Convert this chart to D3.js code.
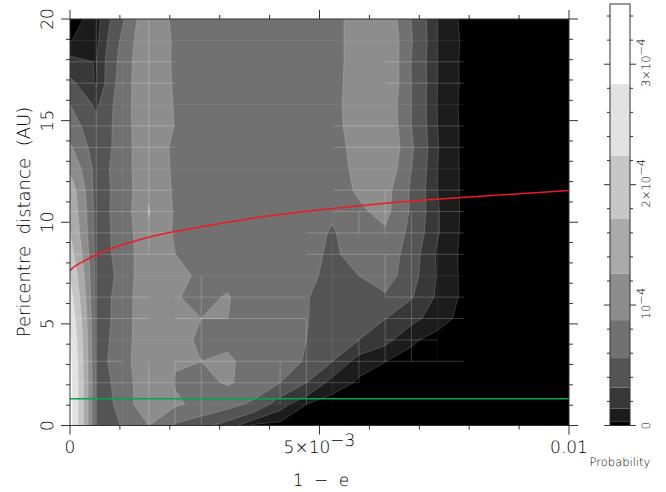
<!DOCTYPE html>
<html>
<head>
<meta charset="utf-8">
<script src="https://cdn.jsdelivr.net/npm/d3@7"></script>
<style>
html, body { margin: 0; padding: 0; background: #fff; }
svg { opacity: 0.999; }
text { font-family: "DejaVu Sans", sans-serif; font-weight: 200; fill: #000; text-rendering: geometricPrecision; }
</style>
</head>
<body>
<div id="chart"></div>
<script>
// probability on a 20 x 20 grid, in units of 1e-6. first row is q = 20 AU, last row q = 0
const probGrid = [
 [0, 7, 52, 116, 79, 74, 74, 74, 74, 74, 72, 108, 115, 55, 14, 0.5, 0, 0, 0, 0],
 [3, 9, 62, 120, 82, 74, 74, 74, 74, 74, 72, 108, 121, 58, 14, 1.5, 0, 0, 0, 0],
 [18, 13.5, 67, 122, 81, 74, 74, 74, 74, 74, 72, 108, 123, 55, 14, 1, 0, 0, 0, 0],
 [37, 12, 71, 118, 83, 74, 74, 74, 74, 74, 74, 108, 123, 56, 14, 1.2, 0, 0, 0, 0],
 [56, 27, 72, 118, 85, 75, 75, 75, 75, 75, 75, 110, 114, 56, 13, 0.8, 0, 0, 0, 0],
 [69, 38, 68, 124, 86, 75, 75, 75, 75, 75, 74, 108, 118, 56, 14, 1, 0, 0, 0, 0],
 [92, 40, 67, 123, 77, 74, 74, 74, 74, 74, 72, 102, 124, 60, 14.5, 1, 0, 0, 0, 0],
 [120, 45, 67, 124, 79, 74, 74, 74, 74, 74, 72, 97, 114, 56, 14, 1.2, 0, 0, 0, 0],
 [150, 43, 67, 120, 82, 74, 74, 74, 74, 74, 72, 92, 100, 51.6, 14, 1.2, 0, 0, 0, 0],
 [162, 45, 66, 128.5, 83.4, 74, 74, 74, 74, 72, 62, 82, 97, 52, 15, 1.2, 0, 0, 0, 0],
 [172, 45, 65, 120, 83, 74, 74, 74, 74, 72, 52, 80, 83, 47.5, 15, 1, 0, 0, 0, 0],
 [195, 45, 64, 117, 88, 72, 75, 75, 72, 70, 48, 75, 75, 41.7, 11.5, 1, 0, 0, 0, 0],
 [222, 45, 61, 121, 108, 75, 78.6, 74, 72, 68, 42, 56, 70, 39, 12.5, 1, 0, 0, 0, 0],
 [245, 45, 64, 124, 89.7, 80, 90, 68, 72, 57.5, 45, 48, 52, 33, 11, 1.5, 0, 0, 0, 0],
 [269, 46, 64, 125, 110, 87.6, 87.7, 75, 72, 57, 46, 44, 32, 18, 8, 0, 0, 0, 0, 0],
 [290, 46, 66, 125, 120, 72, 74, 78, 73, 56, 44, 31.5, 17.9, 5, 0, 0, 0, 0, 0, 0],
 [298, 46, 69, 125.5, 90, 87.6, 98, 63, 72, 52.7, 31.6, 6.5, 3.6, 0.5, 0, 0, 0, 0, 0, 0],
 [303, 48, 62, 125, 85, 80, 90.5, 78, 56, 31.6, 7.5, 2.4, 1, 0, 0, 0, 0, 0, 0, 0],
 [305, 45, 62, 122, 92.8, 78, 67, 50, 20, 3.6, 0, 0, 0, 0, 0, 0, 0, 0, 0, 0],
 [305, 45, 57, 88, 52, 39, 22, 1, 0, 0, 0, 0, 0, 0, 0, 0, 0, 0, 0, 0]
];

// contour levels (1e-6) and the grey of the band starting at each level
const levels = [0, 3.5, 14, 31.5, 56, 87.5, 126, 171.5, 224, 283.5];
const bandColors = ["#000000", "#1c1c1c", "#383838", "#555555", "#717171", "#8d8d8d", "#aaaaaa", "#c6c6c6", "#e2e2e2", "#ffffff"];

// red curve and green line
const redX = [0, 0.00005, 0.000255, 0.00052, 0.00086, 0.00119, 0.00159, 0.00212, 0.00354, 0.00401, 0.00501, 0.00601, 0.00701, 0.00822, 0.01];
const redQ = [7.6, 7.78, 8.06, 8.42, 8.75, 8.99, 9.29, 9.57, 10.16, 10.32, 10.62, 10.87, 11.08, 11.28, 11.56];
const greenQ = 1.32;

// polygon seams along grid lines: [row, fromCol, toCol] and [col, fromRow, toRow], row 0 at the top
const seamRows = [[2,0,4],[3,0,4],[5,0,4],[6,0,4],[8,0,4],[9,0,4],[10,0,4],[11,0,4],[13,0,3],[13,4,9],[14,0,3],[14,4,9],[16,0,2],[16,4,15],[17,0,11],[3,12,15],[2,12,15],[5,10,15],[6,10,15],[8,10,15],[9,10,15],[10,9,15],[11,9,15],[13,12,15],[14,12,15],[15,12,14]];
const faintRows = [[1,0,15],[4,0,15],[7,0,15],[12,0,15],[15,0,11],[18,4,9]];
const seamCols = [[1,0,19],[3,0,11],[3,16,19],[4,16,19],[5,12,19],[8,16,18],[9,14,18],[11,9,10],[11,15,17],[12,8,10],[12,11,13],[12,14,16],[13,9,16]];
const faintCols = [[2,2,19],[10,9,18],[14,9,16]];

const xMajor = [0, 0.005, 0.01];
const yMajor = [0, 5, 10, 15, 20];
const barMajor = [0, 1e-4, 2e-4, 3e-4];

const width = 666, height = 492;
const svg = d3.select("#chart").append("svg")
    .attr("width", width).attr("height", height)
    .style("display", "block");

const x = d3.scaleLinear().domain([0, 0.01]).range([70, 569]);
const y = d3.scaleLinear().domain([0, 20]).range([425.5, 19]);
const barY = d3.scaleLinear().domain([0, 3.5e-4]).range([425.5, 4]);

const nCol = probGrid[0].length, nRow = probGrid.length;
const colX = function (c) { return x(c * 0.01 / (nCol - 1)); };
const rowY = function (r) { return y(20 - r * 20 / (nRow - 1)); };

svg.append("clipPath").attr("id", "plotClip").append("rect")
    .attr("x", 70).attr("y", 19).attr("width", 499).attr("height", 406.5);

const plot = svg.append("g").attr("clip-path", "url(#plotClip)");

// d3 puts value i at grid coordinate i + 0.5
const contours = d3.contours().size([nCol, nRow]).thresholds(levels.slice(1));
const gridPath = d3.geoPath(d3.geoTransform({
    point: function (gx, gy) { this.stream.point(colX(gx - 0.5), rowY(gy - 0.5)); }
}));

plot.append("rect").attr("x", 70).attr("y", 19).attr("width", 499).attr("height", 406.5)
    .attr("fill", bandColors[0]);

const bands = contours(probGrid.flat());
plot.selectAll(".band")
    .data(bands)
    .enter().append("path")
    .attr("class", "band")
    .attr("d", gridPath)
    .attr("fill", function (d, i) { return bandColors[i + 1]; })
    .attr("stroke", "#fff")
    .attr("stroke-opacity", 0.28)
    .attr("stroke-width", 0.6);

// light seams where the grid polygons meet
function drawSeams(rows, cols, opacity) {
    plot.append("g").selectAll("line").data(rows).enter().append("line")
        .attr("x1", function (d) { return colX(d[1]); })
        .attr("x2", function (d) { return colX(d[2]); })
        .attr("y1", function (d) { return rowY(d[0]); })
        .attr("y2", function (d) { return rowY(d[0]); })
        .attr("stroke", "#fff").attr("stroke-opacity", opacity).attr("stroke-width", 0.7);
    plot.append("g").selectAll("line").data(cols).enter().append("line")
        .attr("x1", function (d) { return colX(d[0]); })
        .attr("x2", function (d) { return colX(d[0]); })
        .attr("y1", function (d) { return rowY(d[1]); })
        .attr("y2", function (d) { return rowY(d[2]); })
        .attr("stroke", "#fff").attr("stroke-opacity", opacity).attr("stroke-width", 0.7);
}
drawSeams(seamRows, seamCols, 0.3);
drawSeams(faintRows, faintCols, 0.1);

// curves
const redLine = d3.line()
    .x(function (d) { return x(d); })
    .y(function (d, i) { return y(redQ[i]); })
    .curve(d3.curveBasis);
plot.append("path").attr("d", redLine(redX))
    .attr("fill", "none").attr("stroke", "#ed1c24").attr("stroke-width", 1.5);
plot.append("line")
    .attr("x1", x(0)).attr("x2", x(0.01)).attr("y1", y(greenQ)).attr("y2", y(greenQ))
    .attr("stroke", "#00a651").attr("stroke-width", 1.5);

// frame and ticks
const axisColor = "#333";
svg.append("rect").attr("x", 70).attr("y", 19).attr("width", 499).attr("height", 406.5)
    .attr("fill", "none").attr("stroke", axisColor).attr("stroke-width", 1);

function isMajor(list, v) {
    return list.some(function (m) { return Math.abs(m - v) < 1e-9; });
}
const tickG = svg.append("g").attr("stroke", axisColor).attr("stroke-width", 1);
d3.range(0, 11).map(function (i) { return i * 0.001; }).forEach(function (v) {
    const len = isMajor(xMajor, v) ? 9 : 4;
    tickG.append("line").attr("x1", x(v)).attr("x2", x(v)).attr("y1", 425.5).attr("y2", 425.5 + len);
    tickG.append("line").attr("x1", x(v)).attr("x2", x(v)).attr("y1", 19).attr("y2", 19 - len);
});
d3.range(0, 21).forEach(function (v) {
    const len = isMajor(yMajor, v) ? 9 : 4;
    tickG.append("line").attr("x1", 70).attr("x2", 70 - len).attr("y1", y(v)).attr("y2", y(v));
    tickG.append("line").attr("x1", 569).attr("x2", 569 + len).attr("y1", y(v)).attr("y2", y(v));
});

// tick labels
function sciLabel(sel, mant, exp, rise) {
    sel.append("tspan").text(mant ? mant + "×10" : "10");
    sel.append("tspan").attr("dy", rise).text("−" + exp);
}
svg.append("text").attr("x", x(0)).attr("y", 453).attr("text-anchor", "middle").attr("font-size", 17).text("0");
sciLabel(svg.append("text").attr("x", x(0.005)).attr("y", 453).attr("text-anchor", "middle").attr("font-size", 17), "5", 3, -7);
svg.append("text").attr("x", x(0.01)).attr("y", 453).attr("text-anchor", "middle").attr("font-size", 17).text("0.01");
yMajor.forEach(function (v) {
    svg.append("text")
        .attr("transform", "translate(53," + y(v) + ") rotate(-90)")
        .attr("text-anchor", "middle").attr("font-size", 17).text(v);
});

// axis titles
svg.append("text").attr("x", 321).attr("y", 486).attr("text-anchor", "middle")
    .attr("font-size", 17).style("word-spacing", "5px").text("1 − e");
svg.append("text").attr("transform", "translate(30,222) rotate(-90)").attr("text-anchor", "middle")
    .attr("font-size", 18).style("word-spacing", "6px").text("Pericentre distance (AU)");

// colour bar
const barLeft = 610, barRight = 630;
svg.append("g").selectAll("rect")
    .data(levels)
    .enter().append("rect")
    .attr("x", barLeft).attr("width", barRight - barLeft)
    .attr("y", function (d, i) { return barY((i < levels.length - 1 ? levels[i + 1] : 350) * 1e-6); })
    .attr("height", function (d, i) { return barY(d * 1e-6) - barY((i < levels.length - 1 ? levels[i + 1] : 350) * 1e-6); })
    .attr("fill", function (d, i) { return bandColors[i]; });
svg.append("rect").attr("x", barLeft).attr("y", 4).attr("width", barRight - barLeft).attr("height", 421.5)
    .attr("fill", "none").attr("stroke", axisColor).attr("stroke-width", 1);
d3.range(0, 18).forEach(function (i) {
    const v = i * 0.2e-4;
    const major = i % 5 === 0;
    tickG.append("line").attr("x1", barLeft).attr("x2", barLeft - (major ? 6 : 3)).attr("y1", barY(v)).attr("y2", barY(v));
    tickG.append("line").attr("x1", barRight).attr("x2", barRight + (major ? 6 : 3)).attr("y1", barY(v)).attr("y2", barY(v));
});
barMajor.forEach(function (v, i) {
    const t = svg.append("text")
        .attr("transform", "translate(650," + (barY(v) - (i ? 1.5 : 0)) + ") rotate(-90)")
        .attr("text-anchor", "middle").attr("font-size", 11.5);
    if (i === 0) t.text("0");
    else sciLabel(t, i > 1 ? String(i) : "", 4, -5);
});
svg.append("text").attr("x", 620).attr("y", 466).attr("text-anchor", "middle").attr("font-size", 11.5).text("Probability");
</script>
</body>
</html>
